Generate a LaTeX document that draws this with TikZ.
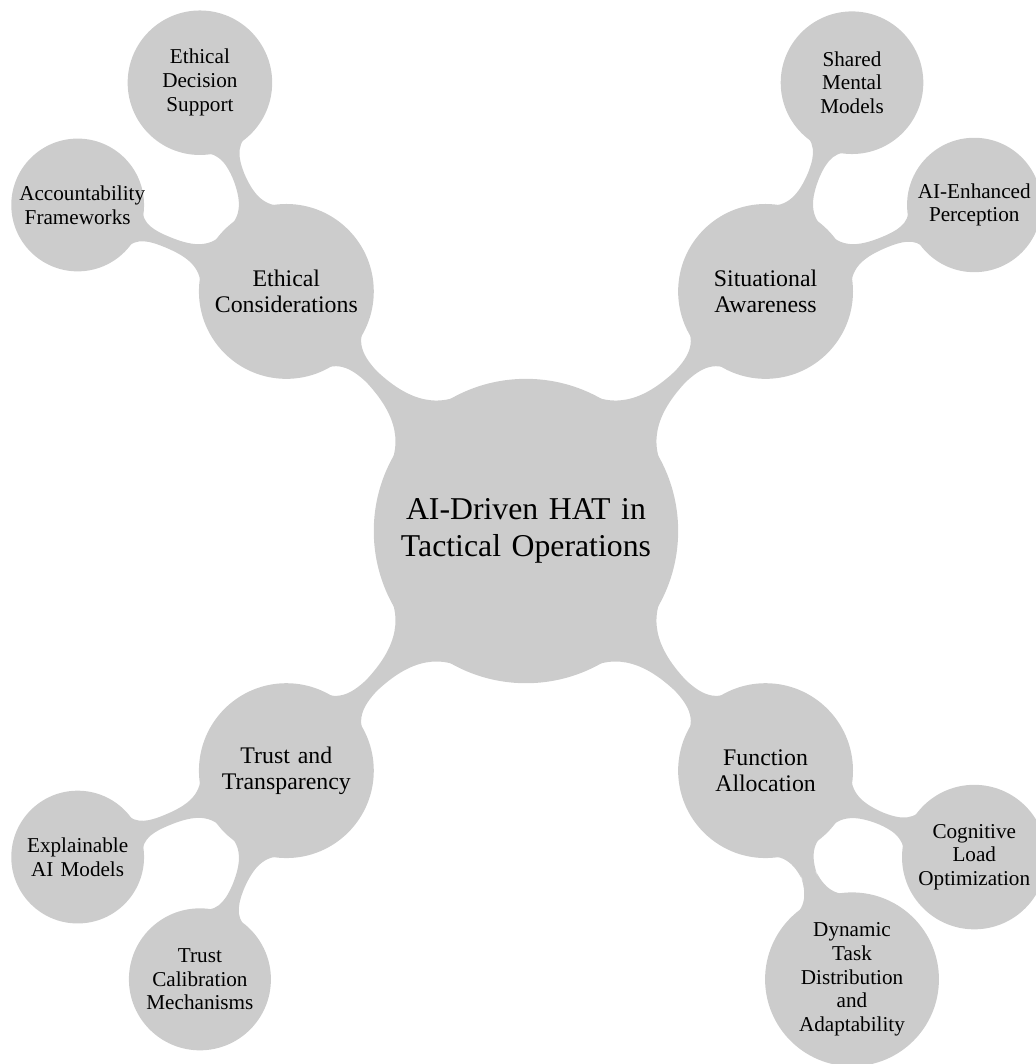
\documentclass[tikz,border=0pt]{standalone}
\usepackage{fontspec}
\setmainfont{Liberation Serif}
\usetikzlibrary{mindmap}
\hyphenpenalty=10000
\exhyphenpenalty=10000
\begin{document}
\begin{tikzpicture}[mindmap,concept color=black!20,text=black,
    root concept/.append style={minimum size=4cm,text width=3.5cm,inner sep=1pt,font=\fontsize{12}{14}\selectfont},
    level 1 concept/.append style={minimum size=2.28cm,text width=2cm,inner sep=1pt,font=\fontsize{9}{10}\selectfont},
    level 2 concept/.append style={minimum size=0pt,text width=1.55cm,inner sep=1pt,font=\fontsize{8}{9}\selectfont},
    level 1/.append style={level distance=4.5cm,sibling angle=90},
    level 2/.append style={level distance=3cm,sibling angle=45}]
    \useasboundingbox (-6.985,-7.078) rectangle (6.773,7.052);
    \node[concept,root concept] (hat) {AI-Driven HAT in Tactical Operations}
        [clockwise from=45]
        child { node[concept] (awareness) {Situational Awareness}
            [clockwise from=67.5]
            child { node[concept] (mental) {Shared Mental Models} }
            child { node[concept] (perception) {AI-Enhanced Perception} } }
        child { node[concept] (allocation) {Function Allocation}
            [clockwise from=-22.5]
            child { node[concept] (load) {Cognitive Load Optimization} }
            child { node[concept] (distribution) {Dynamic Task Distribution and Adaptability} } }
        child { node[concept] (trust) {Trust and Transparency}
            [clockwise from=-112.5]
            child { node[concept] (calibration) {Trust Calibration Mechanisms} }
            child { node[concept] (explainable) {Explainable AI Models} } }
        child { node[concept] (ethics) {Ethical Considerations}
            [clockwise from=157.5]
            child { node[concept] (accountability) {Accountability Frameworks} }
            child { node[concept] (decision) {Ethical Decision Support} } };
\end{tikzpicture}
\end{document}
